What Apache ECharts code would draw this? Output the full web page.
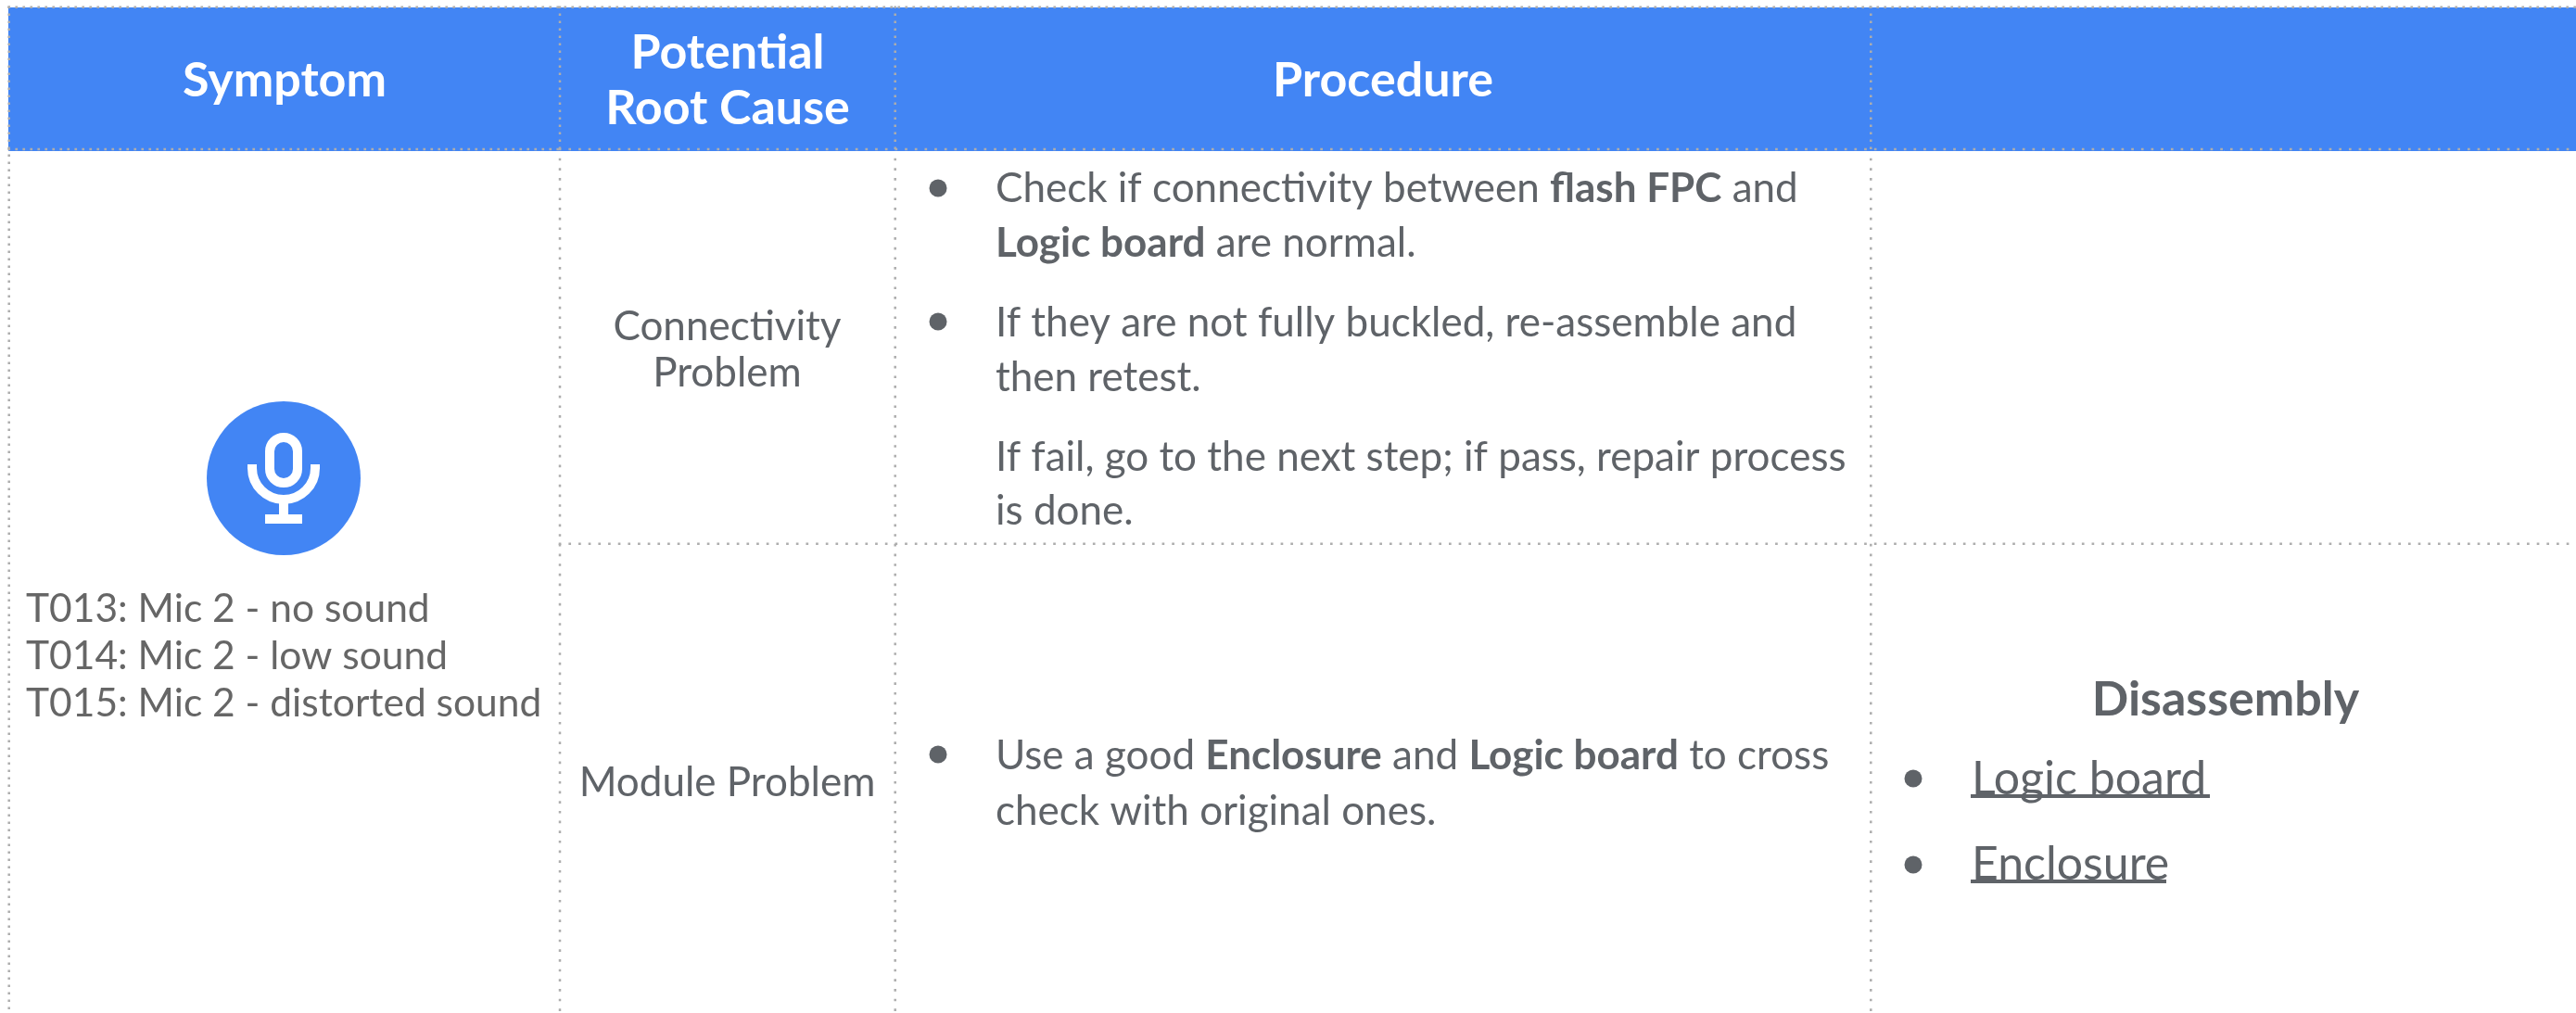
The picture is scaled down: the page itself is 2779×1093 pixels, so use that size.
<!DOCTYPE html>
<html>
<head>
<meta charset="utf-8">
<style>
  html, body { margin: 0; padding: 0; background: #fff; }
  #main { width: 2779px; height: 1093px; }
</style>
<script src="https://cdn.jsdelivr.net/npm/echarts@6/dist/echarts.min.js"></script>
</head>
<body>
<div id="main"></div>
<script>
// table content
var headers = ['Symptom', 'Potential\nRoot Cause', 'Procedure', ''];
var rootCauses = ['Connectivity\nProblem', 'Module Problem'];
var symptomLines = ['T013: Mic 2 - no sound', 'T014: Mic 2 - low sound', 'T015: Mic 2 - distorted sound'];
var procedureLines = [
  '{r|Check if connectivity between }{b|flash FPC}{r| and}',
  '{b|Logic board}{r| are normal.}',
  '{r|If they are not fully buckled, re-assemble and}',
  '{r|then retest.}',
  '{r|If fail, go to the next step; if pass, repair process}',
  '{r|is done.}',
  '{r|Use a good }{b|Enclosure}{r| and }{b|Logic board}{r| to cross}',
  '{r|check with original ones.}'
];
var partsTitle = 'Disassembly';
var partLinks = ['Logic board', 'Enclosure'];

// layout, in page pixels
var colWidths = [595, 361, 1053, 766];
var headerHeight = 150;
var rowHeights = [432, 502];
var symptomY = [657, 708, 759];
var procedureY = [204, 263, 349, 408, 494, 552, 816, 876];
var procedureBulletY = [203, 347, 814];
var partY = [841, 933];
var partBulletY = [840, 933];
var partUnderline = [[2126, 2384, 859], [2126, 2337, 951]];

// dotted rules: x1, y1, x2, y2, gap between dots
var PAGE_W = 2779;
var PAGE_H = 1093;
var rules = [
  [8.4, 7.7, PAGE_W, 7.7, 5.33],
  [8.4, 161, 604, 161, 5.33],
  [602.7, 161, PAGE_W, 161, 8],
  [602.7, 586.7, PAGE_W, 586.7, 8],
  [9.7, 6.4, 9.7, PAGE_H, 5.33],
  [604, 6.4, 604, 161, 5.33],
  [965.7, 6.4, 965.7, 161, 5.33],
  [2018.3, 6.4, 2018.3, 161, 5.33],
  [604, 170.7, 604, PAGE_H, 8],
  [965.7, 170.7, 965.7, PAGE_H, 8],
  [2018.3, 170.7, 2018.3, PAGE_H, 8]
];

var BLUE = '#4285f4';
var GREY = '#5f6368';
var DOT = '#adadad';
var FONT = 'Lato';

var myChart = echarts.init(document.getElementById('main'));

function bullet(x, y) {
  return { type: 'circle', shape: { cx: x, cy: y, r: 9.5 }, style: { fill: GREY } };
}
function textAt(x, y, text, size, extra) {
  var style = { x: x, y: y, text: text, fill: GREY, font: '400 ' + size + 'px ' + FONT, textAlign: 'left', verticalAlign: 'middle' };
  for (var k in extra) style[k] = extra[k];
  return { type: 'text', style: style };
}

var elements = [];

// top of the header band, the matrix starts a little lower so its labels sit right
elements.push({ type: 'rect', shape: { x: 9, y: 8, width: PAGE_W - 9, height: 6 }, style: { fill: BLUE } });

rules.forEach(function (r) {
  elements.push({
    type: 'line',
    z: 10,
    shape: { x1: r[0], y1: r[1], x2: r[2], y2: r[3] },
    style: { stroke: DOT, lineWidth: 2.5, lineDash: [2.67, r[4]] }
  });
});

// mic icon
elements.push({ type: 'circle', shape: { cx: 306, cy: 516, r: 83 }, style: { fill: BLUE } });
elements.push({ type: 'rect', shape: { x: 291, y: 472, width: 30, height: 49, r: 15 }, style: { fill: 'none', stroke: '#fff', lineWidth: 10 } });
elements.push({ type: 'arc', shape: { cx: 306, cy: 505, r: 34, startAngle: 0, endAngle: Math.PI, clockwise: true }, style: { fill: 'none', stroke: '#fff', lineWidth: 10 } });
elements.push({ type: 'rect', shape: { x: 267, y: 501, width: 10, height: 5 }, style: { fill: '#fff' } });
elements.push({ type: 'rect', shape: { x: 335, y: 501, width: 10, height: 5 }, style: { fill: '#fff' } });
elements.push({ type: 'rect', shape: { x: 301, y: 540, width: 10, height: 16 }, style: { fill: '#fff' } });
elements.push({ type: 'rect', shape: { x: 286, y: 555, width: 40, height: 10 }, style: { fill: '#fff' } });

symptomLines.forEach(function (line, i) {
  elements.push(textAt(28, symptomY[i], line, 42.5, { fill: '#666666' }));
});

var procedureRich = {
  r: { font: '400 44px ' + FONT, fill: GREY },
  b: { font: '700 44px ' + FONT, fill: GREY }
};
procedureLines.forEach(function (line, i) {
  elements.push(textAt(1074, procedureY[i], line, 44, { rich: procedureRich }));
});
procedureBulletY.forEach(function (y) { elements.push(bullet(1012, y)); });

elements.push(textAt(2401, 755, partsTitle, 52, { font: '700 52px ' + FONT, textAlign: 'center' }));
partLinks.forEach(function (name, i) {
  elements.push(textAt(2127, partY[i], name, 50));
  elements.push(bullet(2064, partBulletY[i]));
  var u = partUnderline[i];
  elements.push({ type: 'rect', shape: { x: u[0], y: u[2] - 2, width: u[1] - u[0], height: 4 }, style: { fill: GREY } });
});

var option = {
  backgroundColor: '#ffffff',
  matrix: {
    left: 9,
    top: 12,
    width: colWidths[0] + colWidths[1] + colWidths[2] + colWidths[3],
    height: headerHeight + rowHeights[0] + rowHeights[1],
    backgroundStyle: { color: 'transparent', borderWidth: 0 },
    x: {
      levelSize: headerHeight,
      data: headers.map(function (h, i) { return { value: h, size: colWidths[i] }; }),
      itemStyle: { color: BLUE, borderColor: BLUE, borderWidth: 1 },
      dividerLineStyle: { width: 0 },
      label: { color: '#fff', fontFamily: FONT, fontWeight: 700, fontSize: 52, lineHeight: 60 }
    },
    y: {
      show: false,
      data: [{ value: 'row1', size: rowHeights[0] }, { value: 'row2', size: rowHeights[1] }]
    },
    body: {
      itemStyle: { color: 'transparent', borderWidth: 0 },
      label: { color: GREY, fontFamily: FONT, fontSize: 44, lineHeight: 50 },
      data: [
        { coord: [0, [0, 1]], mergeCells: true, value: '' },
        { coord: [1, 0], value: rootCauses[0] },
        { coord: [1, 1], value: rootCauses[1] }
      ]
    }
  },
  graphic: { elements: elements }
};
myChart.setOption(option);
window.addEventListener('resize', function () { myChart.resize(); });
</script>
</body>
</html>
